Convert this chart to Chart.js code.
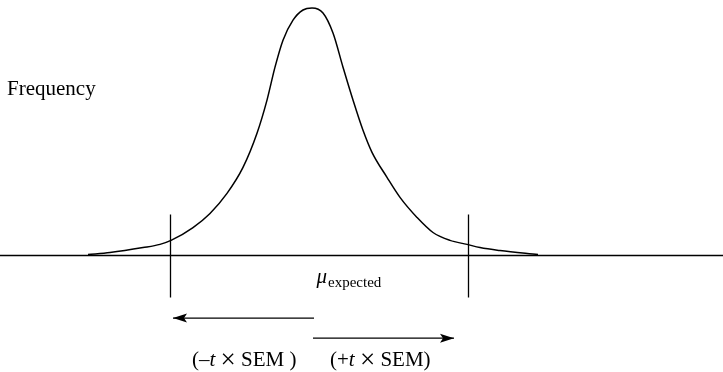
<!DOCTYPE html>
<html>
<head>
<meta charset="utf-8">
<script src="https://cdn.jsdelivr.net/npm/chart.js@4"></script>
<style>
    body { margin: 0; background: #fff; }
    #wrap { width: 723px; height: 372px; }
</style>
</head>
<body>
<div id="wrap"><canvas id="dist" width="723" height="372"></canvas></div>
<script>
// sampling distribution, x in SEM-ish units around the expected mean, height as relative frequency
const curveX = [-22.4, -20.2, -16.9, -15.2, -14.1, -11.9, -10.2, -8.5, -6.9, -5.5, -4.5, -3.7, -2.9, -1.9, -0.9, 0,
    1.1, 2.1, 3.1, 4.1, 5.1, 6.0, 7.5, 8.8, 10.5, 12.1, 13.8, 15.5, 16.8, 18.8, 22.6];
const curveY = [0.4, 1.2, 3.2, 4.5, 6.1, 11.3, 17.0, 25.1, 35.6, 49.4, 62.8, 76.1, 87.0, 95.1, 99.2, 100,
    98.0, 89.9, 76.1, 62.8, 50.6, 41.7, 31.6, 23.5, 15.4, 9.3, 6.1, 4.5, 3.2, 2.0, 0.4];

// axis extent and the critical value markers
const axisX = [-31.2, 41.1];
const criticalX = [-14.15, 15.65];
const markerSpan = [16.6, -17.0];

// -t*SEM and +t*SEM arrows: [start, end, height]
const leftArrow = [0.2, -13.9, -25.3];
const rightArrow = [0.1, 14.2, -33.4];

const ink = '#000';

function seg(x0, y0, x1, y1, w) {
    return {
        data: [{ x: x0, y: y0 }, { x: x1, y: y1 }],
        borderColor: ink,
        borderWidth: w,
        pointRadius: 0,
        tension: 0
    };
}

const datasets = [
    {
        data: curveX.map((x, i) => ({ x: x, y: curveY[i] })),
        borderColor: ink,
        borderWidth: 1.5,
        pointRadius: 0,
        cubicInterpolationMode: 'monotone'
    },
    seg(axisX[0], 0, axisX[1], 0, 1.3),
    seg(criticalX[0], markerSpan[0], criticalX[0], markerSpan[1], 1.3),
    seg(criticalX[1], markerSpan[0], criticalX[1], markerSpan[1], 1.3),
    seg(leftArrow[0], leftArrow[2], leftArrow[1], leftArrow[2], 1.3),
    seg(rightArrow[0], rightArrow[2], rightArrow[1], rightArrow[2], 1.3)
];

// arrow heads and the text labels
const annotate = {
    id: 'annotate',
    afterDatasetsDraw(chart) {
        const c = chart.ctx;
        const sx = chart.scales.x;
        const sy = chart.scales.y;
        c.save();
        c.fillStyle = ink;

        function head(arrow) {
            const tip = sx.getPixelForValue(arrow[1]);
            const y = sy.getPixelForValue(arrow[2]);
            const dir = arrow[1] > arrow[0] ? 1 : -1;
            c.beginPath();
            c.moveTo(tip, y);
            c.lineTo(tip - dir * 14, y - 4.5);
            c.lineTo(tip - dir * 11, y);
            c.lineTo(tip - dir * 14, y + 4.5);
            c.closePath();
            c.fill();
        }
        head(leftArrow);
        head(rightArrow);

        c.textBaseline = 'alphabetic';
        c.textAlign = 'left';
        const serif = '"Liberation Serif", "DejaVu Serif", serif';

        c.font = '21px ' + serif;
        c.fillText('Frequency', 7, 95);

        // mu with subscript
        const mx = sx.getPixelForValue(0.45);
        c.font = 'italic 21px ' + serif;
        c.fillText('\u03bc', mx, 283);
        const mw = c.measureText('\u03bc').width;
        c.font = '15px ' + serif;
        c.fillText('expected', mx + mw + 1, 287);

        // label pieces: [text, italic, size, baseline shift]
        function parts(list, x, y) {
            list.forEach(p => {
                c.font = (p[1] ? 'italic ' : '') + p[2] + 'px ' + serif;
                c.fillText(p[0], x, y + (p[3] || 0));
                x += c.measureText(p[0]).width;
            });
        }
        parts([['(\u2013', false, 21], ['t', true, 21], [' ', false, 21], ['\u00d7', false, 27, 2],
            [' SEM )', false, 21]], 192, 366);
        parts([['(+', false, 21], ['t', true, 21], [' ', false, 21], ['\u00d7', false, 27, 2],
            [' SEM)', false, 21]], 330, 366);
        c.restore();
    }
};

new Chart(document.getElementById('dist'), {
    type: 'line',
    data: { datasets: datasets },
    options: {
        responsive: false,
        animation: false,
        layout: { padding: 0 },
        plugins: { legend: { display: false }, tooltip: { enabled: false } },
        scales: {
            x: { type: 'linear', display: false, min: axisX[0], max: axisX[1] },
            y: { type: 'linear', display: false, min: -47.07, max: 103.24 }
        }
    },
    plugins: [annotate]
});
</script>
</body>
</html>
